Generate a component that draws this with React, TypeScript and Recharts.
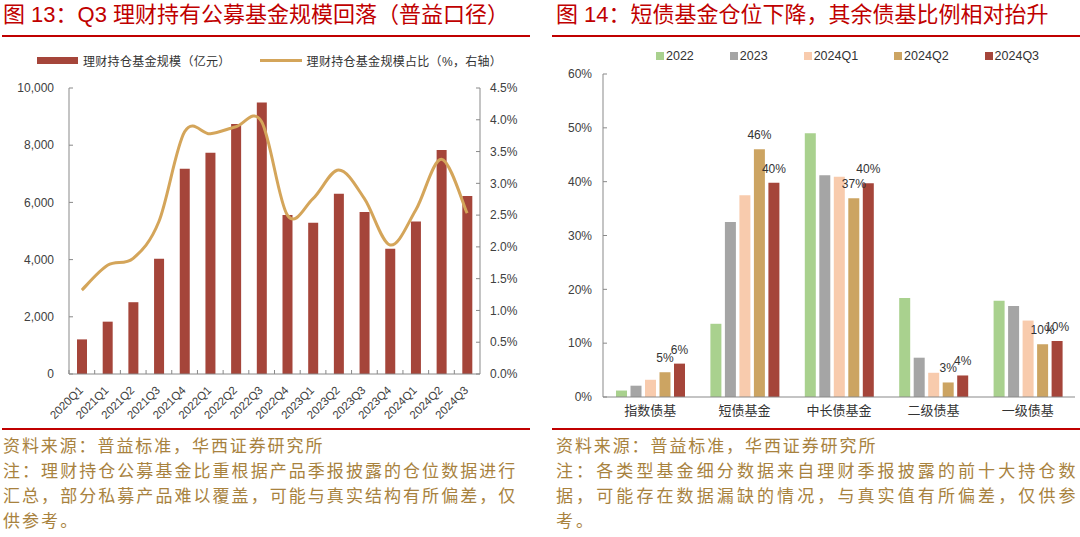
import React from 'react';
import { ComposedChart, BarChart, Bar, Line, XAxis, YAxis, LabelList } from 'recharts';

// ---------- Left chart data ----------
const quarters = [
  '2020Q1', '2021Q1', '2021Q2', '2021Q3', '2021Q4', '2022Q1', '2022Q2', '2022Q3',
  '2022Q4', '2023Q1', '2023Q2', '2023Q3', '2023Q4', '2024Q1', '2024Q2', '2024Q3',
];
const fundScale = [1210, 1830, 2510, 4030, 7180, 7740, 8740, 9490, 5560, 5290, 6300, 5660, 4380, 5330, 7830, 6220];
const fundShare = [1.32, 1.71, 1.82, 2.4, 3.81, 3.78, 3.89, 3.97, 2.5, 2.76, 3.21, 2.76, 2.03, 2.58, 3.38, 2.53];
const leftTicks = [0, 2000, 4000, 6000, 8000, 10000];
const rightTicks = [0, 0.5, 1, 1.5, 2, 2.5, 3, 3.5, 4, 4.5];

// ---------- Right chart data ----------
const fundTypes = ['指数债基', '短债基金', '中长债基金', '二级债基', '一级债基'];
const s2022 = [1.2, 13.6, 49.0, 18.4, 17.9];
const s2023 = [2.1, 32.5, 41.2, 7.3, 16.9];
const s2024Q1 = [3.2, 37.5, 40.9, 4.5, 14.2];
const s2024Q2 = [4.6, 46.0, 36.9, 2.7, 9.8];
const s2024Q3 = [6.2, 39.8, 39.7, 4.0, 10.4];
const pctTicks = [0, 10, 20, 30, 40, 50, 60];

const seriesDefs = [
  { key: 's2022', name: '2022', color: '#A9D18E', values: s2022, label: false },
  { key: 's2023', name: '2023', color: '#A5A5A5', values: s2023, label: false },
  { key: 's2024Q1', name: '2024Q1', color: '#F8CBAD', values: s2024Q1, label: false },
  { key: 's2024Q2', name: '2024Q2', color: '#CCA462', values: s2024Q2, label: true },
  { key: 's2024Q3', name: '2024Q3', color: '#A5453A', values: s2024Q3, label: true },
];

const leftData = quarters.map((q, i) => ({ q, scale: fundScale[i], share: fundShare[i] }));
const rightData = fundTypes.map((t, i) => {
  const row: any = { t };
  seriesDefs.forEach((s) => { row[s.key] = s.values[i]; });
  return row;
});

const FONT = '"Liberation Sans", Arial, "Noto Sans CJK SC", sans-serif';
const RED = '#C00000';
const BAR_RED = '#A5453A';
const GOLD = '#D4A55A';
const AXIS = '#898989';
const TXT = '#404040';
const NOTE = '#A8823E';

// Excel-like smoothed line (Catmull-Rom through the points)
const smoothCurve: any = (context: any) => {
  let pts: number[][] = [];
  return {
    areaStart() {},
    areaEnd() {},
    lineStart() { pts = []; },
    point(x: number, y: number) { pts.push([+x, +y]); },
    lineEnd() {
      const n = pts.length;
      if (!n) return;
      context.moveTo(pts[0][0], pts[0][1]);
      for (let i = 0; i < n - 1; i++) {
        const p0 = pts[Math.max(i - 1, 0)];
        const p1 = pts[i];
        const p2 = pts[i + 1];
        const p3 = pts[Math.min(i + 2, n - 1)];
        context.bezierCurveTo(
          p1[0] + (p2[0] - p0[0]) / 6, p1[1] + (p2[1] - p0[1]) / 6,
          p2[0] - (p3[0] - p1[0]) / 6, p2[1] - (p3[1] - p1[1]) / 6,
          p2[0], p2[1],
        );
      }
    },
  };
};

const QuarterTick = (props: any) => {
  const { x, y, payload } = props;
  const half = payload && Number.isFinite(payload.offset) && payload.offset > 0 ? payload.offset : 411 / 32;
  return (
    <g>
      <line x1={x - half} x2={x - half} y1={y} y2={y - 4} stroke={AXIS} strokeWidth={1} />
      <text
        transform={`translate(${x - 1},${y + 14}) rotate(-45)`}
        textAnchor="end"
        dy="0.35em"
        fontSize={11.5}
        fill={TXT}
        fontFamily={FONT}
      >
        {payload.value}
      </text>
    </g>
  );
};

const noteLine = (text: string, ls: number) => (
  <div style={{ whiteSpace: 'nowrap', letterSpacing: ls, height: 25, lineHeight: '25px' }}>{text}</div>
);

export default function App() {
  return (
    <div style={{ position: 'absolute', left: 0, top: 0, width: 1080, height: 537, background: '#fff', overflow: 'hidden', fontFamily: FONT }}>
      {/* Titles */}
      <div style={{ position: 'absolute', left: 3, top: 4, fontSize: 22, lineHeight: '22px', color: RED, whiteSpace: 'nowrap' }}>
        图 13：Q3 理财持有公募基金规模回落（普益口径）
      </div>
      <div style={{ position: 'absolute', left: 2, top: 35, width: 528, height: 2, background: RED }} />
      <div style={{ position: 'absolute', left: 556, top: 4, fontSize: 22, lineHeight: '22px', color: RED, whiteSpace: 'nowrap' }}>
        图 14：短债基金仓位下降，其余债基比例相对抬升
      </div>
      <div style={{ position: 'absolute', left: 552, top: 35, width: 528, height: 2, background: RED }} />

      {/* Left legend */}
      <div style={{ position: 'absolute', left: 37, top: 52, height: 17, display: 'flex', alignItems: 'center', fontSize: 12, color: '#333', whiteSpace: 'nowrap' }}>
        <span style={{ display: 'inline-block', width: 41, height: 7, background: BAR_RED, marginRight: 5 }} />
        <span style={{ letterSpacing: 0.3 }}>理财持仓基金规模（亿元）</span>
        <span style={{ display: 'inline-block', width: 42, height: 3, background: GOLD, marginLeft: 29, marginRight: 5 }} />
        <span style={{ letterSpacing: 0.3 }}>理财持仓基金规模占比（%，右轴）</span>
      </div>

      {/* Right legend */}
      <div style={{ position: 'absolute', left: 656, top: 47, height: 17, display: 'flex', alignItems: 'center', gap: 36, fontSize: 12.5, color: '#333', whiteSpace: 'nowrap' }}>
        {seriesDefs.map((s) => (
          <div key={s.key} style={{ display: 'flex', alignItems: 'center' }}>
            <span style={{ display: 'inline-block', width: 8, height: 8, background: s.color, marginRight: 2 }} />
            <span>{s.name}</span>
          </div>
        ))}
      </div>

      {/* Left chart */}
      <div style={{ position: 'absolute', left: 0, top: 0 }}>
        <ComposedChart width={540} height={430} data={leftData} margin={{ top: 88, right: 10, bottom: 6, left: 9 }}>
          <XAxis
            dataKey="q"
            interval={0}
            height={50}
            tickLine={false}
            tickSize={0}
            tickMargin={0}
            axisLine={{ stroke: AXIS }}
            tick={<QuarterTick />}
          />
          <YAxis
            yAxisId="l"
            domain={[0, 10000]}
            ticks={leftTicks}
            width={60}
            tickSize={-4}
            tickMargin={19}
            axisLine={{ stroke: AXIS }}
            tickLine={{ stroke: AXIS }}
            tick={{ fontSize: 12, fill: TXT }}
            tickFormatter={(v: number) => v.toLocaleString('en-US')}
            allowDataOverflow
          />
          <YAxis
            yAxisId="r"
            orientation="right"
            domain={[0, 4.5]}
            ticks={rightTicks}
            width={50}
            tickSize={-4}
            tickMargin={14}
            axisLine={{ stroke: AXIS }}
            tickLine={{ stroke: AXIS }}
            tick={{ fontSize: 12, fill: TXT, textAnchor: 'start' }}
            tickFormatter={(v: number) => v.toFixed(1) + '%'}
            allowDataOverflow
          />
          <Bar yAxisId="l" dataKey="scale" fill={BAR_RED} barSize={10} isAnimationActive={false} />
          <Line yAxisId="r" dataKey="share" type={smoothCurve} stroke={GOLD} strokeWidth={3} dot={false} activeDot={false} isAnimationActive={false} />
        </ComposedChart>
      </div>

      {/* Right chart */}
      <div style={{ position: 'absolute', left: 540, top: 0 }}>
        <BarChart width={540} height={430} data={rightData} margin={{ top: 74, right: 5, bottom: 3, left: 5 }} barGap={3.5} barSize={11}>
          <XAxis
            dataKey="t"
            interval={0}
            height={30}
            tickLine={false}
            tickSize={0}
            tickMargin={9}
            axisLine={{ stroke: AXIS }}
            tick={{ fontSize: 13, fill: '#333' }}
          />
          <YAxis
            domain={[0, 60]}
            ticks={pctTicks}
            width={58}
            tickSize={-4}
            tickMargin={15}
            axisLine={{ stroke: AXIS }}
            tickLine={{ stroke: AXIS }}
            tick={{ fontSize: 12, fill: TXT }}
            tickFormatter={(v: number) => v + '%'}
            allowDataOverflow
          />
          {seriesDefs.map((s) => (
            <Bar key={s.key} dataKey={s.key} name={s.name} fill={s.color} isAnimationActive={false}>
              {s.label ? (
                <LabelList
                  dataKey={s.key}
                  position="top"
                  offset={10}
                  fontSize={12}
                  fill="#333"
                  formatter={(v: any) => Math.round(Number(v)) + '%'}
                />
              ) : null}
            </Bar>
          ))}
        </BarChart>
      </div>

      {/* Footer rules */}
      <div style={{ position: 'absolute', left: 2, top: 428, width: 528, height: 2, background: RED }} />
      <div style={{ position: 'absolute', left: 552, top: 428, width: 528, height: 2, background: RED }} />

      {/* Footnotes */}
      <div style={{ position: 'absolute', left: 3, top: 432, fontSize: 17, color: NOTE, fontFamily: '"Noto Sans CJK SC", sans-serif' }}>
        {noteLine('资料来源：普益标准，华西证券研究所', 1.9)}
        {noteLine('注：理财持仓公募基金比重根据产品季报披露的仓位数据进行', 2.05)}
        {noteLine('汇总，部分私募产品难以覆盖，可能与真实结构有所偏差，仅', 2.05)}
        {noteLine('供参考。', 2.05)}
      </div>
      <div style={{ position: 'absolute', left: 556, top: 432, fontSize: 17, color: NOTE, fontFamily: '"Noto Sans CJK SC", sans-serif' }}>
        {noteLine('资料来源：普益标准，华西证券研究所', 1.9)}
        {noteLine('注：各类型基金细分数据来自理财季报披露的前十大持仓数', 3.1)}
        {noteLine('据，可能存在数据漏缺的情况，与真实值有所偏差，仅供参', 3.1)}
        {noteLine('考。', 3.1)}
      </div>
    </div>
  );
}
